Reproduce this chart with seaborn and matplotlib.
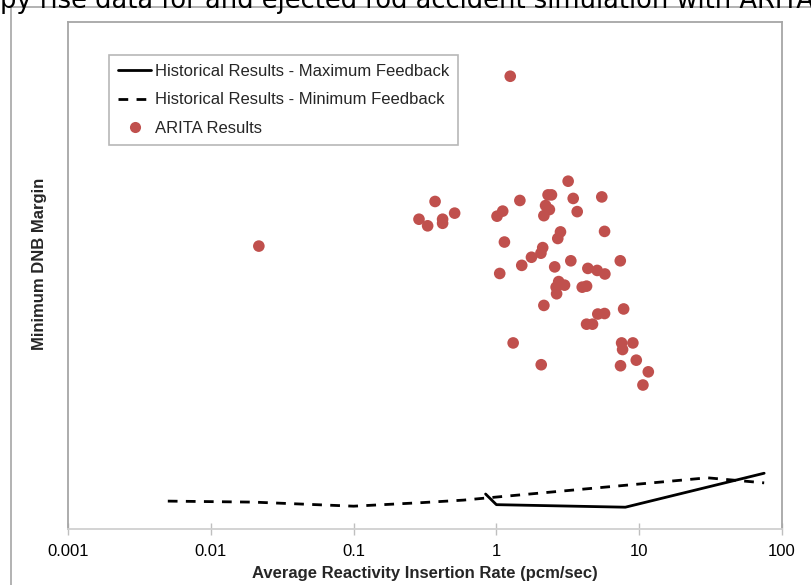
import matplotlib
matplotlib.use("Agg")
import matplotlib.pyplot as plt
import seaborn as sns
import pandas as pd
from matplotlib.patches import Rectangle
from matplotlib.lines import Line2D

# ---- data ----
arita_rate = [1.25, 3.18, 2.30, 2.43, 3.45, 5.47, 0.372, 1.46, 2.21, 2.35,
              2.15, 3.68, 1.107, 1.01, 0.287, 0.330, 0.420, 0.420, 0.510, 0.0217,
              2.81, 2.69, 5.72, 1.138, 2.11, 2.05, 1.76, 1.505, 1.055, 2.56,
              3.32, 4.37, 5.08, 5.75, 7.37, 2.73, 3.00, 2.62, 2.64, 3.99,
              4.28, 2.15, 5.13, 5.72, 4.28, 4.71, 7.78, 1.31, 7.53, 9.03,
              7.65, 2.06, 7.40, 9.54, 11.58, 10.62]
arita_margin = [89.3, 68.6, 65.9, 65.9, 65.2, 65.5, 64.6, 64.8, 63.8, 63.0,
                61.8, 62.6, 62.7, 61.7, 61.1, 59.8, 61.1, 60.3, 62.3, 55.8,
                58.6, 57.3, 58.7, 56.6, 55.5, 54.4, 53.6, 52.0, 50.4, 51.7,
                52.9, 51.4, 51.0, 50.3, 52.9, 48.8, 48.1, 47.7, 46.4, 47.7,
                47.9, 44.1, 42.4, 42.5, 40.4, 40.4, 43.4, 36.7, 36.7, 36.7,
                35.4, 32.4, 32.2, 33.3, 31.0, 28.4]

max_fb_rate = [0.84, 1.0, 8.0, 75.0]
max_fb_margin = [6.9, 4.8, 4.3, 11.0]

min_fb_rate = [0.005, 0.02, 0.1, 0.3, 0.59, 1.0, 30.0, 75.0]
min_fb_margin = [5.5, 5.3, 4.5, 5.2, 5.7, 6.3, 10.1, 9.1]

x_ticks = [0.001, 0.01, 0.1, 1, 10, 100]
x_tick_labels = ["0.001", "0.01", "0.1", "1", "10", "100"]

title_text = "py rise data for and ejected rod accident simulation with ARITA"
x_label = "Average Reactivity Insertion Rate (pcm/sec)"
y_label = "Minimum DNB Margin"
legend_labels = ["Historical Results - Maximum Feedback",
                 "Historical Results - Minimum Feedback",
                 "ARITA Results"]

# ---- plot ----
sns.set_theme(style="white")
plt.rcParams["font.family"] = ["Liberation Sans", "DejaVu Sans"]

W, H = 812, 585
fig = plt.figure(figsize=(W / 100, H / 100), dpi=100)
ax = fig.add_axes([68 / W, (H - 529) / H, (782 - 68) / W, (529 - 22) / H])

df_pts = pd.DataFrame({"rate": arita_rate, "margin": arita_margin})
df_max = pd.DataFrame({"rate": max_fb_rate, "margin": max_fb_margin})
df_min = pd.DataFrame({"rate": min_fb_rate, "margin": min_fb_margin})

sns.lineplot(data=df_max, x="rate", y="margin", ax=ax, color="black",
             linewidth=2.0, sort=False, estimator=None)
sns.lineplot(data=df_min, x="rate", y="margin", ax=ax, color="black",
             linewidth=2.0, linestyle=(0, (3.5, 3)), sort=False, estimator=None)
sns.scatterplot(data=df_pts, x="rate", y="margin", ax=ax, color="#C0504D",
                s=70, edgecolor="none", zorder=3)

ax.set_xscale("log")
ax.set_xlim(0.001, 100)
ax.set_ylim(0, 100)
ax.set_xticks(x_ticks)
ax.set_xticklabels(x_tick_labels)
ax.minorticks_off()
ax.set_yticks([])
ax.tick_params(axis="x", direction="inout", length=8, width=1, color="#bfbfbf",
               labelsize=12, pad=7, labelcolor="black", bottom=True)

for side in ["top", "right", "left"]:
    ax.spines[side].set_color("#a6a6a6")
    ax.spines[side].set_linewidth(1.3)
ax.spines["bottom"].set_color("#d0d0d0")
ax.spines["bottom"].set_linewidth(1.3)

ax.set_xlabel(x_label, fontsize=12, fontweight="bold", labelpad=5)
ax.set_ylabel(y_label, fontsize=12, fontweight="bold")
ax.yaxis.set_label_coords(-0.029, 0.523)

handles = [Line2D([], [], color="black", linewidth=2.0),
           Line2D([], [], color="black", linewidth=2.0, linestyle=(0, (3.5, 3))),
           Line2D([], [], color="#C0504D", marker="o", linestyle="none",
                  markersize=8, markeredgecolor="none")]
leg = ax.legend(handles, legend_labels, loc="upper left",
                bbox_to_anchor=((109 - 68) / (782 - 68), 1 - (55 - 22) / (529 - 22)),
                frameon=True, fancybox=False, shadow=False, fontsize=12,
                handlelength=2.0, handletextpad=0.2, labelspacing=0.8,
                borderpad=0.55, borderaxespad=0)
leg.get_frame().set_edgecolor("#a6a6a6")
leg.get_frame().set_linewidth(1.2)

# outer chart-area border (cropped)
fig.patches.append(Rectangle((11 / W, -0.1), 1.2, (H - 7) / H + 0.1,
                             transform=fig.transFigure, fill=False,
                             edgecolor="#a6a6a6", linewidth=1.2))

# cropped caption at the very top
fig.text(0.0, (H - 8) / H, title_text, fontsize=18.5, ha="left", va="baseline",
         family=["DejaVu Sans"], color="black")

fig.savefig("out.png", dpi=100)
